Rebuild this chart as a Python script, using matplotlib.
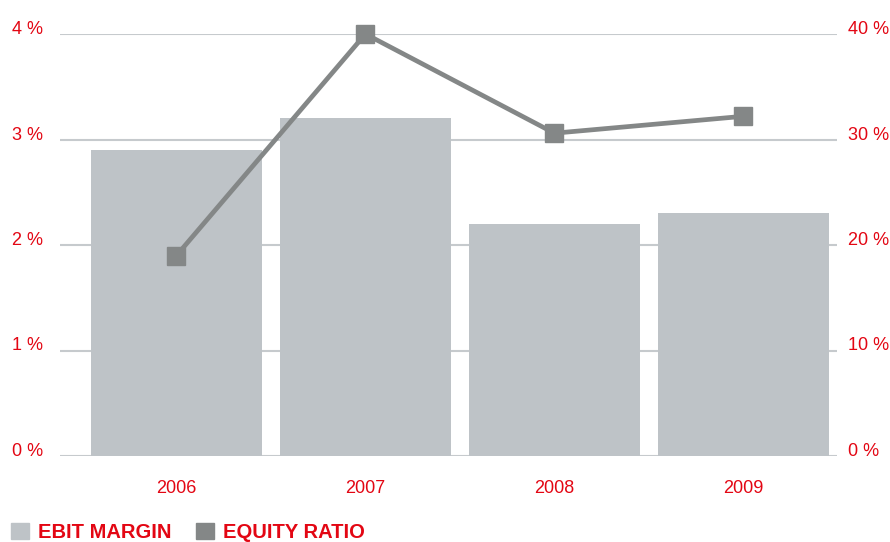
import numpy as np
from matplotlib import pyplot as plt
from matplotlib.patches import Patch

years = ["2006", "2007", "2008", "2009"]
ebit_margin = [2.9, 3.2, 2.2, 2.3]        # %
equity_ratio = [19.0, 40.0, 30.6, 32.2]   # %

left_ticks = [0, 1, 2, 3, 4]
right_ticks = [0, 10, 20, 30, 40]

red = "#e30613"
bar_col = "#bec3c7"
line_col = "#848787"
grid_col = "#c6cacd"

plt.rcParams['font.family'] = ['Liberation Sans', 'DejaVu Sans']

fig = plt.figure(figsize=(8.9, 5.42), dpi=100)
ax = fig.add_axes([60/890, 1-456/542, 777/890, 422/542])
x = np.arange(len(years))

for t in left_ticks:
    ax.axhline(t, color=grid_col, lw=1.5, zorder=0)
ax.bar(x, ebit_margin, width=0.905, color=bar_col, zorder=2)
ax.set_xlim(-0.616, 3.495)
ax.set_ylim(0, 4)
ax.set_yticks(left_ticks)
ax.set_yticklabels([f"{t} %" for t in left_ticks])
ax.set_xticks(x)
ax.set_xticklabels(years)
ax.tick_params(length=0, labelsize=13, labelcolor=red)
ax.tick_params(axis='y', pad=12)
ax.tick_params(axis='x', pad=17)
for s in ax.spines.values():
    s.set_visible(False)

ax2 = ax.twinx()
ax2.plot(x, equity_ratio, color=line_col, lw=3.4, marker='s', markersize=12.5,
         zorder=3, clip_on=False)
ax2.set_ylim(0, 40)
ax2.set_yticks(right_ticks)
ax2.set_yticklabels([f"{t} %" for t in right_ticks])
ax2.tick_params(length=0, labelsize=13, labelcolor=red, pad=8)
for s in ax2.spines.values():
    s.set_visible(False)

# labels sit on top of the grid lines
for lab in ax.get_yticklabels() + ax2.get_yticklabels():
    lab.set_verticalalignment('baseline')

handles = [Patch(color=bar_col), Patch(color=line_col)]
leg = fig.legend(handles, ["EBIT MARGIN", "EQUITY RATIO"], loc='lower left',
                 bbox_to_anchor=(11/890, 0.0), ncol=2, frameon=False,
                 borderpad=0, borderaxespad=0,
                 handlelength=0.9, handleheight=0.9, handletextpad=0.45,
                 columnspacing=1.2,
                 prop={'family': ['Liberation Sans Narrow', 'Liberation Sans'],
                       'weight': 'bold', 'size': 14.5})
for t in leg.get_texts():
    t.set_color(red)

fig.savefig("out.png", dpi=100)
